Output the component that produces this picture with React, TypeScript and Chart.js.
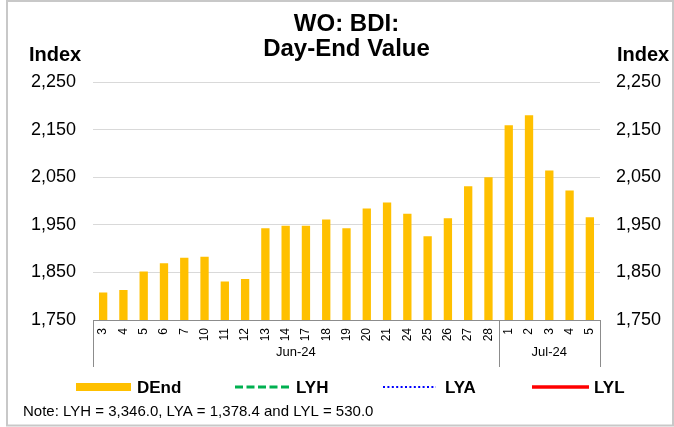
import React, { useEffect, useRef } from "react";
import { Chart, registerables } from "chart.js";

Chart.register(...registerables);

// ---- Data ----
const categories = [
  "3", "4", "5", "6", "7", "10", "11", "12", "13", "14",
  "17", "18", "19", "20", "21", "24", "25", "26", "27", "28",
  "1", "2", "3", "4", "5",
];
const monthLabels = ["Jun-24", "Jul-24"];
const monthCounts = [20, 5];
const dEndValues = [
  1808, 1813, 1852, 1869, 1881, 1883, 1831, 1836, 1943, 1948,
  1948, 1961, 1943, 1984, 1997, 1973, 1926, 1964, 2031, 2050,
  2159, 2180, 2064, 2022, 1966,
];
const yMin = 1750;
const yMax = 2250;
const yStep = 100;
const titleLines = ["WO: BDI:", "Day-End Value"];
const axisTitle = "Index";
const legendLabels = ["DEnd", "LYH", "LYA", "LYL"];
const noteText = "Note: LYH = 3,346.0, LYA = 1,378.4 and LYL = 530.0";

const FONT = '"Liberation Sans", Arial, Helvetica, sans-serif';
const BAR_COLOR = "#FFC000";
const AXIS_COLOR = "#8C8C8C";

const overlayPlugin = {
  id: "overlay",
  afterDraw(chart: any) {
    const ctx: CanvasRenderingContext2D = chart.ctx;
    const area = chart.chartArea;
    const xs = chart.scales.x;
    ctx.save();

    // outer border
    ctx.strokeStyle = "#C8C8C8";
    ctx.lineWidth = 2;
    ctx.strokeRect(7, 1, 666, 424.5);

    // title
    ctx.fillStyle = "#000";
    ctx.textAlign = "center";
    ctx.textBaseline = "alphabetic";
    ctx.font = `bold 24px ${FONT}`;
    const cx = (area.left + area.right) / 2;
    ctx.fillText(titleLines[0], cx, 31);
    ctx.fillText(titleLines[1], cx, 56);

    // axis titles
    ctx.font = `bold 20px ${FONT}`;
    ctx.textAlign = "left";
    ctx.fillText(axisTitle, 29, 61);
    ctx.fillText(axisTitle, 617, 61);

    // month group separators and labels
    const half = (xs.getPixelForValue(1) - xs.getPixelForValue(0)) / 2;
    const lineBottom = area.bottom + 47;
    ctx.strokeStyle = AXIS_COLOR;
    ctx.lineWidth = 1;
    let idx = 0;
    const bounds: number[] = [area.left];
    monthCounts.forEach((c) => {
      idx += c;
      bounds.push(idx >= categories.length ? area.right : xs.getPixelForValue(idx) - half);
    });
    bounds.forEach((bx) => {
      const px = Math.round(bx) + 0.5;
      ctx.beginPath();
      ctx.moveTo(px, area.bottom);
      ctx.lineTo(px, lineBottom);
      ctx.stroke();
    });
    ctx.font = `13px ${FONT}`;
    ctx.fillStyle = "#000";
    ctx.textAlign = "center";
    ctx.textBaseline = "middle";
    monthLabels.forEach((m, i) => {
      ctx.fillText(m, (bounds[i] + bounds[i + 1]) / 2, area.bottom + 32);
    });

    // legend
    const ly = 387;
    ctx.fillStyle = BAR_COLOR;
    ctx.fillRect(76, ly - 4, 55, 8);
    ctx.lineWidth = 3;
    ctx.strokeStyle = "#00B050";
    ctx.setLineDash([8, 3.5]);
    ctx.beginPath();
    ctx.moveTo(235, ly);
    ctx.lineTo(290, ly);
    ctx.stroke();
    ctx.lineWidth = 2;
    ctx.strokeStyle = "#0000FF";
    ctx.setLineDash([2, 2.4]);
    ctx.beginPath();
    ctx.moveTo(383, ly);
    ctx.lineTo(436, ly);
    ctx.stroke();
    ctx.setLineDash([]);
    ctx.lineWidth = 3.5;
    ctx.strokeStyle = "#FF0000";
    ctx.beginPath();
    ctx.moveTo(532, ly);
    ctx.lineTo(589, ly);
    ctx.stroke();

    ctx.fillStyle = "#000";
    ctx.font = `bold 17px ${FONT}`;
    ctx.textAlign = "left";
    ctx.textBaseline = "middle";
    const lx = [137, 296, 445, 594];
    legendLabels.forEach((l, i) => ctx.fillText(l, lx[i], ly + 1));

    // note
    ctx.font = `15px ${FONT}`;
    ctx.fillText(noteText, 23, 412);

    ctx.restore();
  },
};

export default function App() {
  const ref = useRef<HTMLCanvasElement | null>(null);

  useEffect(() => {
    document.body.style.margin = "0";
    if (!ref.current) return;
    Chart.defaults.font.family = FONT;
    const chart = new Chart(ref.current, {
      type: "bar",
      data: {
        labels: categories,
        datasets: [
          {
            label: legendLabels[0],
            data: dEndValues,
            backgroundColor: BAR_COLOR,
            borderWidth: 0,
            categoryPercentage: 1,
            barPercentage: 0.41,
            yAxisID: "y",
          },
        ],
      },
      options: {
        responsive: false,
        animation: false,
        devicePixelRatio: 1,
        layout: { padding: { top: 82, left: 0, right: 0, bottom: 0 } },
        plugins: {
          legend: { display: false },
          title: { display: false },
          tooltip: { enabled: false },
        },
        scales: {
          x: {
            type: "category",
            grid: { display: false, drawTicks: false },
            border: { display: true, color: AXIS_COLOR, width: 1 },
            ticks: {
              autoSkip: false,
              maxRotation: 90,
              minRotation: 90,
              padding: 8,
              color: "#000",
              font: { size: 12, family: FONT },
            },
            afterFit: (s: any) => {
              s.height = 107;
            },
          },
          y: {
            position: "left",
            min: yMin,
            max: yMax,
            grid: { color: "#D9D9D9", lineWidth: 1, drawTicks: false },
            border: { display: false },
            ticks: {
              stepSize: yStep,
              padding: 17,
              color: "#000",
              font: { size: 18, family: FONT },
              callback: (v: any) => Number(v).toLocaleString("en-US"),
            },
            afterFit: (s: any) => {
              s.width = 93;
            },
          },
          y2: {
            position: "right",
            min: yMin,
            max: yMax,
            grid: { display: false, drawTicks: false },
            border: { display: false },
            ticks: {
              stepSize: yStep,
              padding: 16,
              color: "#000",
              font: { size: 18, family: FONT },
              callback: (v: any) => Number(v).toLocaleString("en-US"),
            },
            afterFit: (s: any) => {
              s.width = 74;
            },
          },
        },
      },
      plugins: [overlayPlugin],
    });
    return () => chart.destroy();
  }, []);

  return (
    <div style={{ width: 674, height: 427, background: "#fff" }}>
      <canvas ref={ref} width={674} height={427} style={{ display: "block" }} />
    </div>
  );
}
